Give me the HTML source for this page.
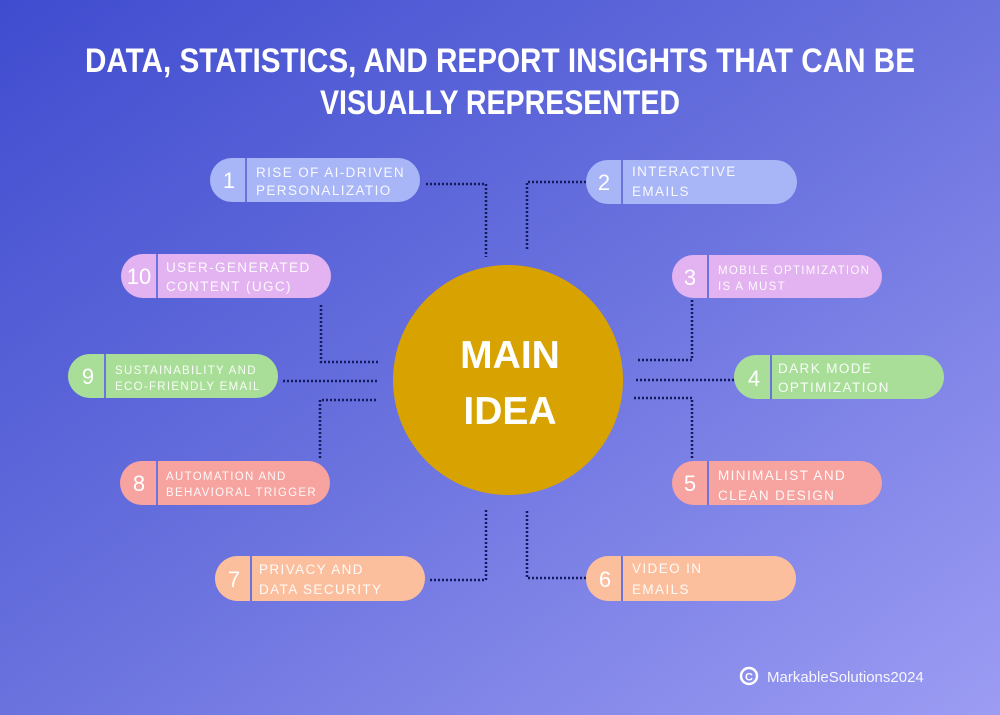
<!DOCTYPE html>
<html><head><meta charset="utf-8"><style>
html,body{margin:0;padding:0;}
body{width:1000px;height:715px;overflow:hidden;}
svg{display:block;}
.t{font-family:"Liberation Sans",sans-serif;fill:#fff;fill-opacity:0.92;letter-spacing:1.4px;font-size:13.5px;}
.s{font-size:11.5px;letter-spacing:1.3px;}
.n{font-family:"Liberation Sans",sans-serif;fill:#fff;font-size:22px;text-anchor:middle;}
.c{fill:none;stroke:#141a5e;stroke-width:2.5;stroke-dasharray:2 2;}
</style></head><body>
<svg width="1000" height="715" viewBox="0 0 1000 715">
<defs>
<linearGradient id="bg" x1="0" y1="0" x2="1" y2="1">
<stop offset="0" stop-color="#3f4ccf"/>
<stop offset="0.5" stop-color="#6a72de"/>
<stop offset="1" stop-color="#9c9cf3"/>
</linearGradient>
</defs>
<rect width="1000" height="715" fill="url(#bg)"/>
<g font-family="'Liberation Sans Narrow','Liberation Sans',sans-serif" font-weight="bold" font-size="34" fill="#fff" text-anchor="middle">
<text x="500" y="72" textLength="830" lengthAdjust="spacingAndGlyphs">DATA, STATISTICS, AND REPORT INSIGHTS THAT CAN BE</text>
<text x="500" y="114" textLength="360" lengthAdjust="spacingAndGlyphs">VISUALLY REPRESENTED</text>
</g>

<path class="c" d="M426 184 H486 V257"/>
<path class="c" d="M586 182 H527 V250"/>
<path class="c" d="M321 305 V362 H380"/>
<path class="c" d="M692 300 V360 H636"/>
<path class="c" d="M283 381 H378"/>
<path class="c" d="M636 380 H734"/>
<path class="c" d="M320 458 V400 H378"/>
<path class="c" d="M692 458 V398 H632"/>
<path class="c" d="M430 580 H486 V510"/>
<path class="c" d="M586 578 H527 V510"/>

<circle cx="508" cy="380" r="115" fill="#d8a300"/>
<g font-family="'Liberation Sans',sans-serif" font-weight="bold" font-size="39" fill="#fff" text-anchor="middle">
<text x="510" y="368">MAIN</text>
<text x="510" y="424">IDEA</text>
</g>

<g>
<rect x="210" y="158" width="210" height="44" rx="22" fill="#a8b5f6"/>
<line x1="246" y1="158" x2="246" y2="202" stroke="#6a74dc" stroke-width="2"/>
<text class="n" x="229" y="188">1</text>
<text class="t" x="256" y="177">RISE OF AI-DRIVEN</text>
<text class="t" x="256" y="195">PERSONALIZATIO</text>

<rect x="586" y="160" width="211" height="44" rx="22" fill="#a8b5f6"/>
<line x1="622" y1="160" x2="622" y2="204" stroke="#6a74dc" stroke-width="2"/>
<text class="n" x="604" y="190">2</text>
<text class="t" x="632" y="176">INTERACTIVE</text>
<text class="t" x="632" y="196">EMAILS</text>

<rect x="121" y="254" width="210" height="44" rx="22" fill="#e3b2f0"/>
<line x1="157" y1="254" x2="157" y2="298" stroke="#6a74dc" stroke-width="2"/>
<text class="n" x="139" y="284">10</text>
<text class="t" x="166" y="272">USER-GENERATED</text>
<text class="t" x="166" y="291">CONTENT (UGC)</text>

<rect x="672" y="255" width="210" height="43" rx="21.5" fill="#e3b2f0"/>
<line x1="708" y1="255" x2="708" y2="298" stroke="#6a74dc" stroke-width="2"/>
<text class="n" x="690" y="285">3</text>
<text class="t s" x="718" y="274">MOBILE OPTIMIZATION</text>
<text class="t s" x="718" y="290">IS A MUST</text>

<rect x="68" y="354" width="210" height="44" rx="22" fill="#a8de98"/>
<line x1="105" y1="354" x2="105" y2="398" stroke="#6a74dc" stroke-width="2"/>
<text class="n" x="88" y="384">9</text>
<text class="t s" x="115" y="374">SUSTAINABILITY AND</text>
<text class="t s" x="115" y="390">ECO-FRIENDLY EMAIL</text>

<rect x="734" y="355" width="210" height="44" rx="22" fill="#a8de98"/>
<line x1="771" y1="355" x2="771" y2="399" stroke="#6a74dc" stroke-width="2"/>
<text class="n" x="754" y="386">4</text>
<text class="t" x="778" y="373">DARK MODE</text>
<text class="t" x="778" y="392">OPTIMIZATION</text>

<rect x="120" y="461" width="210" height="44" rx="22" fill="#f7a3a0"/>
<line x1="157" y1="461" x2="157" y2="505" stroke="#6a74dc" stroke-width="2"/>
<text class="n" x="139" y="491">8</text>
<text class="t s" x="166" y="480">AUTOMATION AND</text>
<text class="t s" x="166" y="496">BEHAVIORAL TRIGGER</text>

<rect x="672" y="461" width="210" height="44" rx="22" fill="#f7a3a0"/>
<line x1="708" y1="461" x2="708" y2="505" stroke="#6a74dc" stroke-width="2"/>
<text class="n" x="690" y="491">5</text>
<text class="t" x="718" y="480">MINIMALIST AND</text>
<text class="t" x="718" y="500">CLEAN DESIGN</text>

<rect x="215" y="556" width="210" height="45" rx="22.5" fill="#fcbf9e"/>
<line x1="251" y1="556" x2="251" y2="601" stroke="#6a74dc" stroke-width="2"/>
<text class="n" x="234" y="587">7</text>
<text class="t" x="259" y="574">PRIVACY AND</text>
<text class="t" x="259" y="594">DATA SECURITY</text>

<rect x="586" y="556" width="210" height="45" rx="22.5" fill="#fcbf9e"/>
<line x1="622" y1="556" x2="622" y2="601" stroke="#6a74dc" stroke-width="2"/>
<text class="n" x="605" y="587">6</text>
<text class="t" x="632" y="573">VIDEO IN</text>
<text class="t" x="632" y="594">EMAILS</text>
</g>

<circle cx="749" cy="676" r="8" fill="none" stroke="#fff" stroke-width="2.5"/>
<text x="749" y="680.5" font-family="'Liberation Sans',sans-serif" font-weight="bold" font-size="11" fill="#fff" text-anchor="middle">C</text>
<text x="767" y="682" font-family="'Liberation Sans',sans-serif" font-size="15" fill="#fff" fill-opacity="0.92">MarkableSolutions2024</text>
</svg>
</body></html>
